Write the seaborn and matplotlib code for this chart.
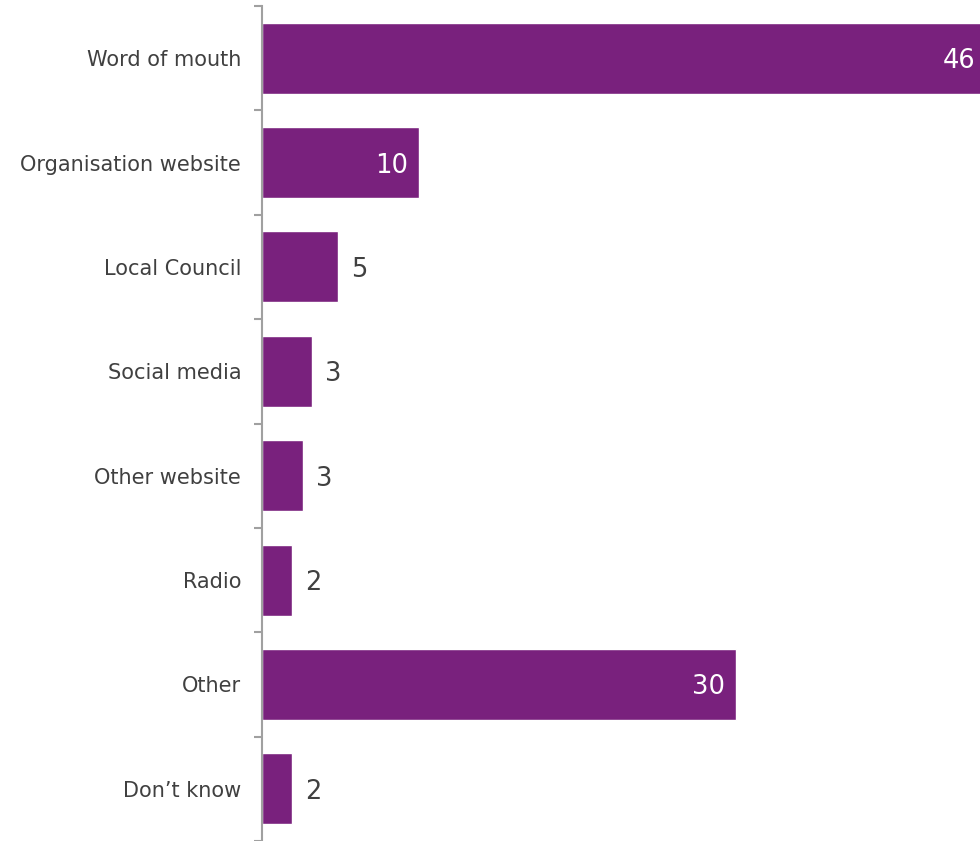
import matplotlib
matplotlib.use('Agg')
import matplotlib.pyplot as plt
import matplotlib.transforms as mtransforms
import numpy as np
import pandas as pd
import seaborn as sns

# how people heard about the service (%)
categories = ['Word of mouth', 'Organisation website', 'Local Council', 'Social media',
              'Other website', 'Radio', 'Other', 'Don\u2019t know']
values = [46.0, 10.0, 4.8, 3.2, 2.6, 1.9, 30.1, 1.9]
inside_label = [True, True, False, False, False, False, True, False]

BAR = '#79217D'
TEXT = '#404040'

df = pd.DataFrame({'source': categories, 'pct': values})

sns.set_style('white')
plt.rcParams['font.family'] = ['DejaVu Sans']

fig = plt.figure(figsize=(9.8, 8.41), dpi=100)
ax = fig.add_axes([262 / 980, 0.0, 1 - 262 / 980, 1 - 6 / 841])

sns.barplot(data=df, y='source', x='pct', orient='h', color=BAR, width=0.68,
            saturation=1, ax=ax)

xmax = 45.6
ax.set_xlim(0, xmax)
ax.set_ylim(len(categories) - 0.5, -0.5)

for i, (v, inside) in enumerate(zip(values, inside_label)):
    txt = f'{round(v):d}'
    if inside:
        off = mtransforms.offset_copy(ax.transData, fig=fig, x=-11, y=-3, units='dots')
        ax.text(v, i, txt, transform=off, ha='right', va='center',
                color='white', fontsize=18.5)
    else:
        off = mtransforms.offset_copy(ax.transData, fig=fig, x=13, y=-3, units='dots')
        ax.text(v, i, txt, transform=off, ha='left', va='center',
                color=TEXT, fontsize=18.5)

ax.set_xlabel('')
ax.set_ylabel('')
ax.set_xticks([])
for s in ['top', 'right', 'bottom']:
    ax.spines[s].set_visible(False)
ax.spines['left'].set_color('#a0a0a0')
ax.spines['left'].set_linewidth(1.5)

ax.set_yticks(np.arange(-0.5, len(categories), 1.0), minor=True)
ax.tick_params(axis='y', which='minor', left=True, length=6, width=1.5,
               color='#a0a0a0', direction='out')
ax.tick_params(axis='y', which='major', left=False, length=0, pad=15,
               labelsize=15, labelcolor=TEXT)

fig.savefig('out.png', dpi=100)
